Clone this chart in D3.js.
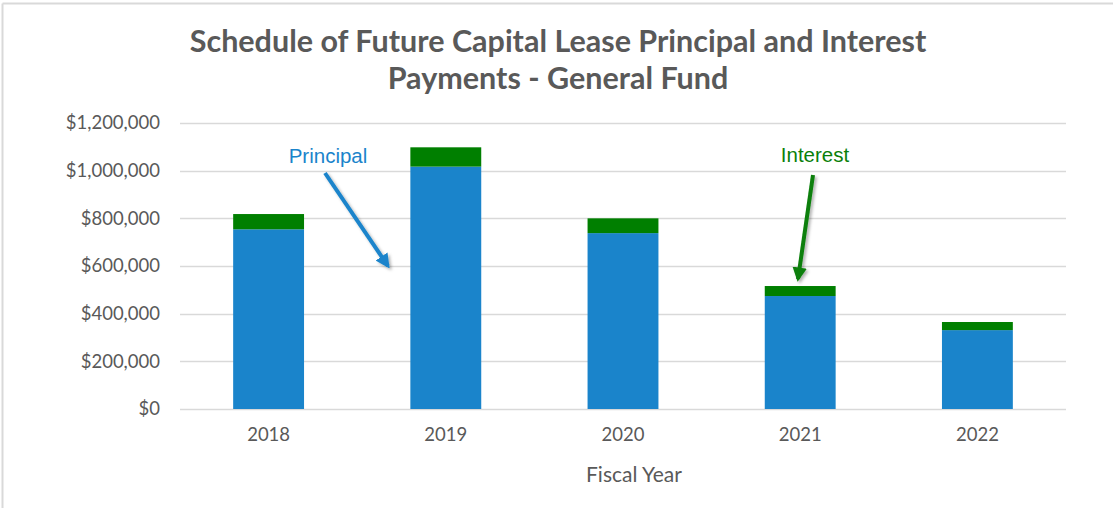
<!DOCTYPE html>
<html>
<head>
<meta charset="utf-8">
<script src="https://cdn.jsdelivr.net/npm/d3@7"></script>
<style>
  body { margin: 0; background: #fff; }
  svg { display: block; font-family: Lato, "Open Sans", sans-serif; }
</style>
</head>
<body>
<div id="box"></div>
<script>
// data
var years = ["2018", "2019", "2020", "2021", "2022"];
var principal = [754000, 1017000, 738000, 474000, 331000];
var interest = [64000, 81000, 62000, 42000, 34000];
var yTicks = [0, 200000, 400000, 600000, 800000, 1000000, 1200000];

var width = 1113, height = 508;
var margin = { top: 123, right: 47, bottom: 99, left: 180 };

var svg = d3.select("#box")
    .append("svg")
    .attr("width", width)
    .attr("height", height);

// drop shadow for the arrows
var defs = svg.append("defs");
var shadow = defs.append("filter").attr("id", "shadow")
    .attr("x", "-50%").attr("y", "-50%").attr("width", "200%").attr("height", "200%");
shadow.append("feDropShadow")
    .attr("dx", 2).attr("dy", 2).attr("stdDeviation", 1.5)
    .attr("flood-color", "#000").attr("flood-opacity", 0.3);

function marker(id, color) {
    defs.append("marker")
        .attr("id", id)
        .attr("viewBox", "0 0 10 10")
        .attr("refX", 8).attr("refY", 5)
        .attr("markerWidth", 3.6).attr("markerHeight", 3.6)
        .attr("orient", "auto")
        .append("path")
        .attr("d", "M0,0 L10,5 L0,10 z")
        .attr("fill", color);
}
marker("arrowBlue", "#1a84cb");
marker("arrowGreen", "#0a7f0a");

// chart border (top + left only visible)
svg.append("line").attr("x1", 2.5).attr("y1", 3.5).attr("x2", width).attr("y2", 3.5)
    .attr("stroke", "#d9d9d9").attr("stroke-width", 2);
svg.append("line").attr("x1", 2.5).attr("y1", 3.5).attr("x2", 2.5).attr("y2", height)
    .attr("stroke", "#d9d9d9").attr("stroke-width", 2);

// title
var title = svg.append("text")
    .attr("x", 558)
    .attr("text-anchor", "middle")
    .attr("fill", "#595959")
    .attr("font-weight", "bold")
    .attr("font-size", 30.5);
title.append("tspan").attr("x", 558).attr("y", 52).text("Schedule of Future Capital Lease Principal and Interest");
title.append("tspan").attr("x", 558).attr("y", 89).text("Payments - General Fund");

var x = d3.scaleBand()
    .domain(years)
    .range([margin.left, width - margin.right])
    .paddingInner(0.6)
    .paddingOuter(0.3);

var y = d3.scaleLinear()
    .domain([0, 1200000])
    .range([height - margin.bottom, margin.top]);

// gridlines
svg.append("g")
    .selectAll("line")
    .data(yTicks)
    .enter()
    .append("line")
    .attr("x1", margin.left)
    .attr("x2", width - margin.right)
    .attr("y1", function(d) { return Math.round(y(d)) + 0.5; })
    .attr("y2", function(d) { return Math.round(y(d)) + 0.5; })
    .attr("stroke", "#d9d9d9")
    .attr("stroke-width", 1.3);

// y axis labels
var yAxis = d3.axisLeft(y)
    .tickValues(yTicks)
    .tickSize(0)
    .tickPadding(20)
    .tickFormat(function(d) { return "$" + d3.format(",")(d); });

svg.append("g")
    .attr("transform", "translate(" + margin.left + ",0)")
    .call(yAxis)
    .call(function(g) { g.select(".domain").remove(); })
    .selectAll("text")
    .attr("fill", "#595959")
    .attr("font-size", 18.5)
    .attr("font-family", "Lato, sans-serif");

// x axis labels
var xAxis = d3.axisBottom(x).tickSize(0).tickPadding(19);
svg.append("g")
    .attr("transform", "translate(0," + (height - margin.bottom) + ")")
    .call(xAxis)
    .call(function(g) { g.select(".domain").remove(); })
    .selectAll("text")
    .attr("fill", "#595959")
    .attr("font-size", 18.5)
    .attr("font-family", "Lato, sans-serif");

// stacked bars
var rows = years.map(function(yr, i) {
    return { year: yr, Principal: principal[i], Interest: interest[i] };
});
var stack = d3.stack().keys(["Principal", "Interest"]);
var series = stack(rows);
var colors = { Principal: "#1a84cb", Interest: "#007f00" };

svg.append("g")
    .selectAll("g")
    .data(series)
    .enter()
    .append("g")
    .attr("fill", function(d) { return colors[d.key]; })
    .selectAll("rect")
    .data(function(d) { return d; })
    .enter()
    .append("rect")
    .attr("x", function(d) { return x(d.data.year); })
    .attr("width", x.bandwidth())
    .attr("y", function(d) { return y(d[1]); })
    .attr("height", function(d) { return y(d[0]) - y(d[1]); });

// axis title
svg.append("text")
    .attr("x", 634)
    .attr("y", 482)
    .attr("text-anchor", "middle")
    .attr("fill", "#595959")
    .attr("font-size", 21)
    .text("Fiscal Year");

// annotations
svg.append("text")
    .attr("x", 328).attr("y", 163)
    .attr("text-anchor", "middle")
    .attr("fill", "#1a84cb")
    .attr("font-family", "Liberation Sans, Arial, sans-serif")
    .attr("font-size", 20.5)
    .text("Principal");

svg.append("line")
    .attr("x1", 325).attr("y1", 173)
    .attr("x2", 388).attr("y2", 266)
    .attr("stroke", "#1a84cb")
    .attr("stroke-width", 4)
    .attr("marker-end", "url(#arrowBlue)")
    .attr("filter", "url(#shadow)");

svg.append("text")
    .attr("x", 815).attr("y", 162)
    .attr("text-anchor", "middle")
    .attr("fill", "#0a7f0a")
    .attr("font-family", "Liberation Sans, Arial, sans-serif")
    .attr("font-size", 20.5)
    .text("Interest");

svg.append("line")
    .attr("x1", 813).attr("y1", 175)
    .attr("x2", 798).attr("y2", 279)
    .attr("stroke", "#0a7f0a")
    .attr("stroke-width", 4)
    .attr("marker-end", "url(#arrowGreen)")
    .attr("filter", "url(#shadow)");
</script>
</body>
</html>
